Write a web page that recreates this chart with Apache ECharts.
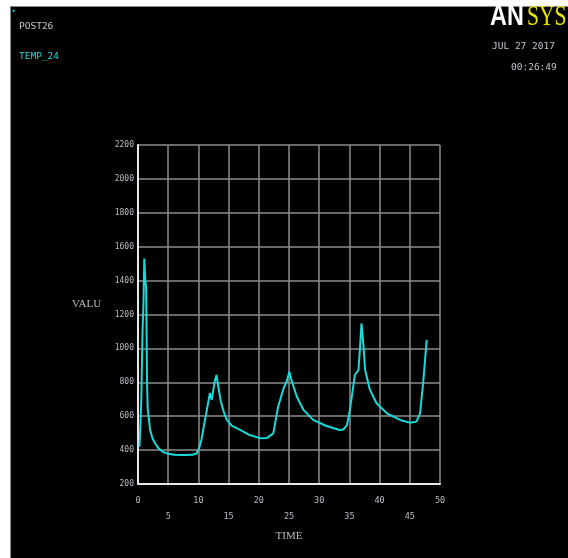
<!DOCTYPE html>
<html>
<head>
<meta charset="utf-8">
<style>
  html, body { margin: 0; padding: 0; background: #fff; }
  #chart { width: 568px; height: 558px; }
</style>
<script src="https://cdn.jsdelivr.net/npm/echarts@6/dist/echarts.min.js"></script>
</head>
<body>
<div id="chart"></div>
<script>
// Nodal temperature history (TEMP_24) from POST26
const timeValues = [
  0.25, 0.55, 0.75, 0.9, 1.04, 1.2, 1.35, 1.5, 1.6, 1.75, 2.0, 2.4, 2.8, 3.4, 4.1,
  5, 6, 7, 8, 9, 9.7, 10.1, 10.5, 11.0, 11.4, 11.9, 12.2, 12.5, 12.75, 13.0, 13.3,
  13.7, 14.2, 14.7, 15.5, 16.9, 18.5, 19.5, 20.2, 21.3, 22.4, 23.2, 24.1, 24.6,
  25.05, 25.4, 26.3, 27.4, 29.0, 31.2, 33.4, 34.0, 34.6, 35.0, 35.4, 35.9, 36.5,
  36.8, 37.0, 37.3, 37.6, 38.4, 39.5, 41.2, 43.4, 45.0, 46.1, 46.7, 47.2, 47.8
];
const tempValues = [
  420, 700, 1110, 1250, 1530, 1400, 1360, 800, 650, 600, 520, 470, 442, 410, 390,
  378, 372, 371, 371, 372, 380, 410, 460, 560, 637, 737, 696, 760, 814, 843, 772,
  690, 625, 578, 545, 519, 489, 478, 470, 471, 499, 656, 765, 803,
  862, 814, 715, 637, 578, 542, 519, 522, 548, 620, 715, 843, 872,
  1030, 1148, 1030, 872, 755, 676, 617, 578, 562, 568, 617, 794, 1050
];
const xTicks = [0, 5, 10, 15, 20, 25, 30, 35, 40, 45, 50];
const yTicks = [200, 400, 600, 800, 1000, 1200, 1400, 1600, 1800, 2000, 2200];

const mono = "'DejaVu Sans Mono'";
const serif = "'Liberation Serif'";
const tickColor = '#b8bcc4';

const chart = echarts.init(document.getElementById('chart'));
chart.setOption({
  backgroundColor: '#000',
  animation: false,
  grid: { left: 138, top: 145, width: 302, height: 339 },
  xAxis: {
    type: 'value',
    min: xTicks[0],
    max: xTicks[xTicks.length - 1],
    interval: 5,
    axisLine: { show: true, onZero: false, lineStyle: { color: '#e8e8e8', width: 2 } },
    axisTick: { show: false },
    splitLine: { show: true, lineStyle: { color: '#8c8c8c', width: 1.5 } },
    axisLabel: {
      color: tickColor,
      fontFamily: 'DejaVu Sans Mono',
      fontSize: 8.5,
      margin: 9,
      lineHeight: 16,
      formatter: v => ((v / 5) % 2 === 1 ? '\n' + v : String(v))
    },
    name: 'TIME',
    nameLocation: 'middle',
    nameGap: 47,
    nameTextStyle: { color: tickColor, fontFamily: 'Liberation Serif', fontSize: 11 }
  },
  yAxis: {
    type: 'value',
    min: yTicks[0],
    max: yTicks[yTicks.length - 1],
    interval: 200,
    axisLine: { show: true, lineStyle: { color: '#e8e8e8', width: 2 } },
    axisTick: { show: false },
    splitLine: { show: true, lineStyle: { color: '#8c8c8c', width: 1.5 } },
    axisLabel: {
      color: tickColor,
      fontFamily: 'DejaVu Sans Mono',
      fontSize: 8,
      margin: 4,
      formatter: v => String(v)
    }
  },
  series: [{
    type: 'line',
    data: timeValues.map((t, i) => [t, tempValues[i]]),
    showSymbol: false,
    smooth: false,
    lineStyle: { color: '#19d9d9', width: 2 }
  }],
  graphic: [
    // white frame strips along top and left edges
    { type: 'rect', left: 0, top: 0, shape: { width: 568, height: 6 }, style: { fill: '#fff' }, z: 10 },
    { type: 'rect', left: 0, top: 0, shape: { width: 10, height: 558 }, style: { fill: '#fff' }, z: 10 },
    { type: 'rect', left: 10, top: 6, shape: { width: 1, height: 552 }, style: { fill: '#888' }, z: 10 },
    { type: 'rect', left: 10, top: 6, shape: { width: 558, height: 1 }, style: { fill: '#888' }, z: 10 },
    { type: 'text', left: 12, top: 8, style: { text: '▪', fill: '#19d9d9', font: '5px ' + mono }, z: 11 },
    { type: 'text', left: 19, top: 22, style: { text: 'POST26', fill: '#c0c4cc', font: '9.5px ' + mono }, z: 11 },
    { type: 'text', left: 19, top: 52, style: { text: 'TEMP_24', fill: '#19d9d9', font: '9.5px ' + mono }, z: 11 },
    { type: 'text', left: 492, top: 42, style: { text: 'JUL 27 2017', fill: '#c0c4cc', font: '9.5px ' + mono }, z: 11 },
    { type: 'text', left: 511, top: 63, style: { text: '00:26:49', fill: '#c0c4cc', font: '9.5px ' + mono }, z: 11 },
    { type: 'text', left: 72, top: 299, style: { text: 'VALU', fill: tickColor, font: '11px ' + serif }, z: 11 },
    // ANSYS logo
    { type: 'text', x: 490, y: 2, scaleX: 0.78, style: { text: 'AN', fill: '#fff', font: "bold 30px 'Liberation Sans'" }, z: 12 },
    { type: 'text', x: 527, y: 2, scaleX: 0.72, style: { text: 'SYS', fill: '#e6e600', font: '30px ' + serif }, z: 12 }
  ]
});
</script>
</body>
</html>
